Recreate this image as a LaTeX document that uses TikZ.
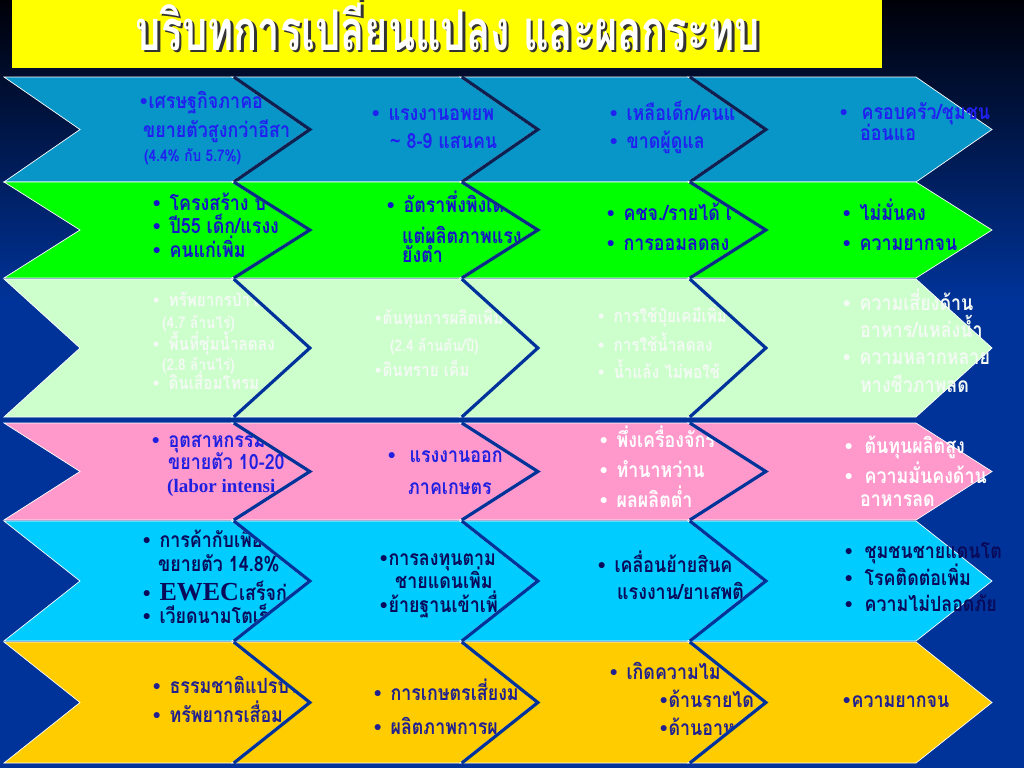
\documentclass[tikz,border=0pt]{standalone}
\usepackage{fontspec}
\newfontfamily\thai[Script=Thai,FakeStretch=0.85]{Loma}
\newfontfamily\thaiT[Script=Thai,FakeStretch=0.71]{Loma}
\newfontfamily\bulf{Liberation Sans}
\newfontfamily\tnr{Liberation Serif}
\definecolor{bgtop}{HTML}{000008}
\definecolor{bgmid}{HTML}{003399}
\definecolor{sepa}{HTML}{0F1F50}
\definecolor{sepb}{HTML}{0A2D85}
\definecolor{cA}{HTML}{0896C8}
\definecolor{cB}{HTML}{00FF00}
\definecolor{cC}{HTML}{CCFFCC}
\definecolor{cD}{HTML}{FF99CC}
\definecolor{cE}{HTML}{00CCFF}
\definecolor{cF}{HTML}{FFCC00}
\definecolor{tA}{HTML}{2020F0}
\definecolor{tB}{HTML}{1414C8}
\definecolor{tC}{HTML}{F4FAF4}
\definecolor{tD}{HTML}{2020E0}
\definecolor{tE}{HTML}{0A0A5A}
\definecolor{tF}{HTML}{202090}
\definecolor{ttl}{HTML}{FFFF00}
\definecolor{tshadow}{HTML}{333333}
\newcommand\myb[1][9pt]{{\bulf •}\hspace{#1}}
\newcommand\shadowtext[1]{\makebox[0pt][l]{\hspace{2.5pt}\raisebox{-2.5pt}{\textcolor{tshadow}{#1}}}#1}
\newcommand\mychev[5]{%
 \pgfmathsetmacro\cxL{4+228*#1}%
 \pgfmathsetmacro\cxR{232+228*#1}%
 \pgfmathsetmacro\cxN{\cxL+76}%
 \pgfmathsetmacro\cxP{\cxR+76}%
 \pgfmathsetmacro\cxM{(#2+#3)/2}%
 \filldraw[chev,fill=#4] (\cxL,#2) -- (\cxR,#2) -- (\cxP,\cxM) -- (\cxR,#3) -- (\cxL,#3) -- (\cxN,\cxM) -- cycle;%
 \ifnum#1>0 \draw[sepline,draw=#5,xshift=1.8pt] (\cxL,#2) -- (\cxN,\cxM) -- (\cxL,#3);\fi
}
\tikzset{
 chev/.style={draw=white, line width=0.7pt},
 sepline/.style={line width=3.2pt},
 txt/.style={anchor=base west, inner sep=0pt, font=\thai\bfseries\fontsize{21}{24}\selectfont},
 stxt/.style={anchor=base west, inner sep=0pt, font=\thai\bfseries\fontsize{18}{20}\selectfont},
 ptxt/.style={anchor=base west, inner sep=0pt, font=\thai\bfseries\fontsize{16}{18}\selectfont},
 ttxt/.style={anchor=base, inner sep=0pt, font=\thaiT\bfseries\fontsize{56}{60}\selectfont},
}
\begin{document}
\begin{tikzpicture}[x=1pt,y=-1pt]
\useasboundingbox (0,0) rectangle (1024,768);
% background
\fill[top color=bgtop, bottom color=bgmid] (0,0) rectangle (1024,300);
\fill[bgmid] (0,299) rectangle (1024,768);
% title
\fill[ttl] (12,0) rectangle (882,68);
\node[ttxt, text=white] (title) at (448,50) {\shadowtext{บริบทการเปลี่ยนแปลง และผลกระทบ}};

% ---------- row 1
\mychev{0}{77}{182}{cA}{sepa}
\node[txt,text=tA] (r1a1) at (140,108) {\myb[1pt]เศรษฐกิจภาคอ};
\node[txt,text=tA] (r1a2) at (143,137) {ขยายตัวสูงกว่าอีสา};
\node[ptxt,text=tA] (r1a3) at (144,161) {(4.4\% กับ 5.7\%)};
\mychev{1}{77}{182}{cA}{sepa}
\node[txt,text=tA] (r1b1) at (372,120) {\myb แรงงานอพยพ};
\node[txt,text=tA] (r1b2) at (390,148) {\textasciitilde\ 8-9 แสนคน};
\mychev{2}{77}{182}{cA}{sepa}
\node[txt,text=tA] (r1c1) at (610,120) {\myb เหลือเด็ก/คนแ};
\node[txt,text=tA] (r1c2) at (610,148) {\myb ขาดผู้ดูแล};
\mychev{3}{77}{182}{cA}{sepa}
\node[txt,text=tA] (r1d1) at (840,119) {\myb[14pt]ครอบครัว/ชุมชน};
\node[txt,text=tA] (r1d2) at (860,140) {อ่อนแอ};

% ---------- row 2
\mychev{0}{182}{278}{cB}{sepb}
\node[txt,text=tB] (r2a1) at (153,210) {\myb โครงสร้าง ป};
\node[txt,text=tB] (r2a2) at (153,233) {\myb ปี55 เด็ก/แรงง};
\node[txt,text=tB] (r2a3) at (153,257) {\myb คนแก่เพิ่ม};
\mychev{1}{182}{278}{cB}{sepb}
\node[txt,text=tB] (r2b1) at (387,212) {\myb อัตราพึ่งพิงเด};
\node[txt,text=tB] (r2b2) at (402,243) {แต่ผลิตภาพแรง};
\node[txt,text=tB] (r2b3) at (402,262) {ยังต่ำ};
\mychev{2}{182}{278}{cB}{sepb}
\node[txt,text=tB] (r2c1) at (607,220) {\myb คชจ./รายได้ เ};
\node[txt,text=tB] (r2c2) at (607,250) {\myb การออมลดลง};
\mychev{3}{182}{278}{cB}{sepb}
\node[txt,text=tB] (r2d1) at (843,220) {\myb ไม่มั่นคง};
\node[txt,text=tB] (r2d2) at (843,250) {\myb ความยากจน};

% ---------- row 3
\mychev{0}{279}{417}{cC}{bgmid}
\node[stxt,text=tC] (r3a1) at (153,306) {\myb ทรัพยากรป่าไม้};
\node[ptxt,text=tC] (r3a2) at (162,328) {(4.7 ล้านไร่)};
\node[stxt,text=tC] (r3a3) at (153,350) {\myb พื้นที่ชุ่มน้ำลดลง};
\node[ptxt,text=tC] (r3a4) at (162,370) {(2.8 ล้านไร่)};
\node[stxt,text=tC] (r3a5) at (153,389) {\myb ดินเสื่อมโทรม};
\mychev{1}{279}{417}{cC}{bgmid}
\node[stxt,text=tC] (r3b1) at (375,324) {\myb[1pt]ต้นทุนการผลิตเพิ่ม};
\node[ptxt,text=tC] (r3b2) at (390,351) {(2.4 ล้านตัน/ปี)};
\node[stxt,text=tC] (r3b3) at (375,376) {\myb[1pt]ดินทราย เค็ม};
\mychev{2}{279}{417}{cC}{bgmid}
\node[stxt,text=tC] (r3c1) at (598,322) {\myb การใช้ปุ๋ยเคมีเพิ่ม};
\node[stxt,text=tC] (r3c2) at (598,351) {\myb การใช้น้ำลดลง};
\node[stxt,text=tC] (r3c3) at (598,378) {\myb น้ำแล้ง ไม่พอใช้};
\mychev{3}{279}{417}{cC}{bgmid}
\node[txt,text=tC] (r3d1) at (843,310) {\myb ความเสี่ยงด้าน};
\node[txt,text=tC] (r3d2) at (860,337) {อาหาร/แหล่งน้ำ};
\node[txt,text=tC] (r3d3) at (843,364) {\myb ความหลากหลาย};
\node[txt,text=tC] (r3d4) at (860,392) {ทางชีวภาพลด};

% ---------- row 4
\mychev{0}{423}{520}{cD}{bgmid}
\node[txt,text=tD] (r4a1) at (152,447) {\myb อุตสาหกรรม};
\node[txt,text=tD] (r4a2) at (168,469) {ขยายตัว 10-20};
\node[anchor=base west, inner sep=0pt, text=tD, font=\tnr\bfseries\fontsize{19}{21}\selectfont] (r4a3) at (167,492) {(labor intensi};
\mychev{1}{423}{520}{cD}{bgmid}
\node[txt,text=tD] (r4b1) at (388,462) {\myb[14pt]แรงงานออก};
\node[txt,text=tD] (r4b2) at (408,494) {ภาคเกษตร};
\mychev{2}{423}{520}{cD}{bgmid}
\node[txt,text=white] (r4c1) at (600,447) {\myb พึ่งเครื่องจักร};
\node[txt,text=white] (r4c2) at (600,477) {\myb ทำนาหว่าน};
\node[txt,text=white] (r4c3) at (600,507) {\myb ผลผลิตต่ำ};
\mychev{3}{423}{520}{cD}{bgmid}
\node[txt,text=white] (r4d1) at (845,453) {\myb[12pt]ต้นทุนผลิตสูง};
\node[txt,text=white] (r4d2) at (845,483) {\myb[12pt]ความมั่นคงด้าน};
\node[txt,text=white] (r4d3) at (860,506) {อาหารลด};

% ---------- row 5
\mychev{0}{521}{641}{cE}{bgmid}
\node[txt,text=tE] (r5a1) at (143,547) {\myb การค้ากับเพื่อ};
\node[txt,text=tE] (r5a2) at (158,571) {ขยายตัว 14.8\%};
\node[txt,text=tE] (r5a3) at (143,600) {\myb{\tnr\bfseries\fontsize{26}{28}\selectfont EWEC}เสร็จก่};
\node[txt,text=tE] (r5a4) at (143,623) {\myb เวียดนามโตเร็ว};
\mychev{1}{521}{641}{cE}{bgmid}
\node[txt,text=tE] (r5b1) at (380,565) {\myb[1pt]การลงทุนตาม};
\node[txt,text=tE] (r5b2) at (395,588) {ชายแดนเพิ่ม};
\node[txt,text=tE] (r5b3) at (380,612) {\myb[1pt]ย้ายฐานเข้าเพื่};
\mychev{2}{521}{641}{cE}{bgmid}
\node[txt,text=tE] (r5c1) at (598,572) {\myb เคลื่อนย้ายสินค};
\node[txt,text=tE] (r5c2) at (617,599) {แรงงาน/ยาเสพติ};
\mychev{3}{521}{641}{cE}{bgmid}
\node[txt,text=tE] (r5d1) at (845,558) {\myb[12pt]ชุมชนชายแดนโต};
\node[txt,text=tE] (r5d2) at (845,585) {\myb[12pt]โรคติดต่อเพิ่ม};
\node[txt,text=tE] (r5d3) at (845,611) {\myb[12pt]ความไม่ปลอดภัย};

% ---------- row 6
\mychev{0}{642}{763}{cF}{bgmid}
\node[txt,text=tF] (r6a1) at (153,693) {\myb ธรรมชาติแปรปร};
\node[txt,text=tF] (r6a2) at (153,722) {\myb ทรัพยากรเสื่อม};
\mychev{1}{642}{763}{cF}{bgmid}
\node[txt,text=tF] (r6b1) at (374,700) {\myb การเกษตรเสี่ยงม};
\node[txt,text=tF] (r6b2) at (374,734) {\myb ผลิตภาพการผ};
\mychev{2}{642}{763}{cF}{bgmid}
\node[txt,text=tF] (r6c1) at (610,679) {\myb เกิดความไม่};
\node[txt,text=tF] (r6c2) at (660,707) {\myb[1pt]ด้านรายได};
\node[txt,text=tF] (r6c3) at (660,735) {\myb[1pt]ด้านอาห};
\mychev{3}{642}{763}{cF}{bgmid}
\node[txt,text=tF] (r6d1) at (843,707) {\myb[1pt]ความยากจน};
\end{tikzpicture}
\end{document}
